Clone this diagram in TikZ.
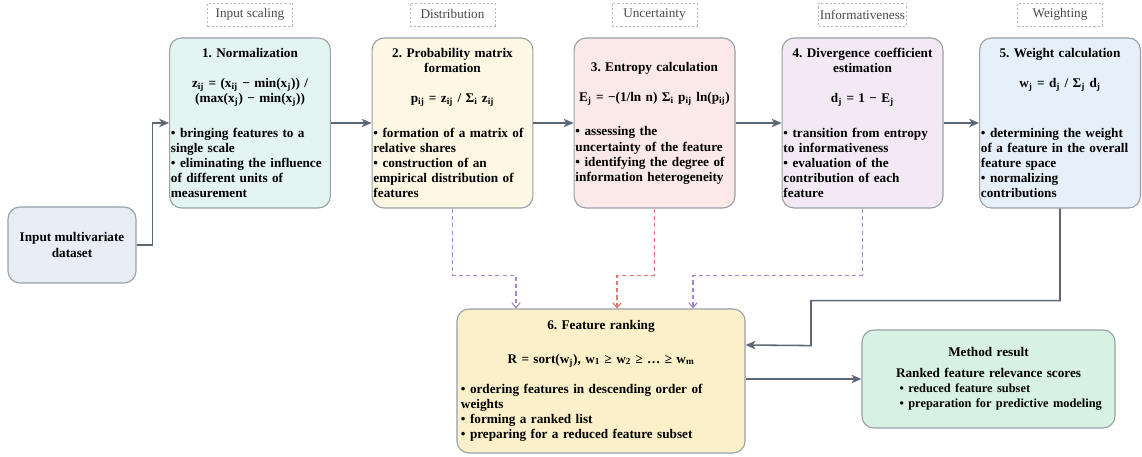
\documentclass[tikz,border=0pt]{standalone}
\usepackage{fontspec}
\setmainfont{Liberation Serif}
\usetikzlibrary{arrows.meta,positioning,calc}
\setlength{\parindent}{0pt}
\frenchspacing

\definecolor{edgec}{HTML}{9AA0A6}
\definecolor{flowc}{HTML}{5D6674}
\definecolor{tagc}{HTML}{B8B8B8}
\definecolor{tagtext}{HTML}{4A4A4A}
\definecolor{violetc}{HTML}{A883D0}
\definecolor{redc}{HTML}{E8776C}
\definecolor{c0}{HTML}{E9EEF6}
\definecolor{c1}{HTML}{E3F4F1}
\definecolor{c2}{HTML}{FDF7E3}
\definecolor{c3}{HTML}{FBE8E8}
\definecolor{c4}{HTML}{F2E9F5}
\definecolor{c5}{HTML}{E6F0FA}
\definecolor{c6}{HTML}{FBF0C9}
\definecolor{c7}{HTML}{D7F2E4}

\tikzset{
  box/.style={draw=edgec, line width=0.8pt, rounded corners=0.3cm,
    font=\fontsize{9.4}{10.7}\selectfont\bfseries},
  stage/.style={box, align=left, text width=3.95cm, inner xsep=1pt,
    minimum height=4.25cm},
  tag/.style={draw=tagc, dash pattern=on 1.5pt off 1.5pt, text=tagtext,
    minimum width=2.125cm, minimum height=0.575cm, inner sep=1pt,
    font=\fontsize{9.4}{10.7}\selectfont},
  flow/.style={draw=flowc, line width=1.1pt,
    -{Stealth[length=7pt,width=6pt,inset=2pt]}},
  link/.style={line width=0.8pt, dash pattern=on 3pt off 2.2pt,
    -{Straight Barb[length=3.5pt,width=6pt]}},
}

\newcommand{\sub}[1]{\textsubscript{#1}}

\begin{document}
\begin{tikzpicture}[x=0.025cm,y=-0.025cm]
  \useasboundingbox (0,0) rectangle (1142,457);

  % main stages
  \node[box, fill=c0, minimum width=3.2cm, minimum height=1.9cm, align=center] (input) at (72,245) {Input multivariate\\dataset};

  \node[stage, fill=c1] (norm) at (250,123) {%
    {\centering 1. Normalization\par}\vspace{10.7pt}
    {\centering z\sub{ij} = (x\sub{ij} − min(x\sub{j})) /\\(max(x\sub{j}) − min(x\sub{j}))\par}\vspace{14pt}
    • bringing features to a\\single scale\\• eliminating the influence\\of different units of\\measurement};

  \node[stage, fill=c2] (prob) at (452.5,123) {%
    {\centering 2. Probability matrix\\formation\par}\vspace{10.7pt}
    {\centering p\sub{ij} = z\sub{ij} / Σ\sub{i} z\sub{ij}\par}\vspace{14pt}
    • formation of a matrix of\\relative shares\\• construction of an\\empirical distribution of\\features};

  \node[stage, fill=c3] (entropy) at (654.5,123) {%
    {\centering 3. Entropy calculation\par}\vspace{10.7pt}
    {\centering E\sub{j} = −(1/ln n) Σ\sub{i} p\sub{ij} ln(p\sub{ij})\par}\vspace{14pt}
    • assessing the\\uncertainty of the feature\\• identifying the degree of\\information heterogeneity};

  \node[stage, fill=c4] (diverg) at (862.5,123) {%
    {\centering 4. Divergence coefficient\\estimation\par}\vspace{10.7pt}
    {\centering d\sub{j} = 1 − E\sub{j}\par}\vspace{14pt}
    • transition from entropy\\to informativeness\\• evaluation of the\\contribution of each\\feature};

  \node[stage, fill=c5] (weight) at (1060,123) {%
    {\centering 5. Weight calculation\par}\vspace{10.7pt}
    {\centering w\sub{j} = d\sub{j} / Σ\sub{j} d\sub{j}\par}\vspace{25pt}
    • determining the weight\\of a feature in the overall\\feature space\\• normalizing\\contributions};

  \node[box, fill=c6, align=left, text width=7cm, inner xsep=0.1cm, minimum height=3.6cm] (rank) at (601,381) {%
    {\centering 6. Feature ranking\par}\vspace{12.8pt}
    {\centering R = sort(w\sub{j}), w\sub{1} ≥ w\sub{2} ≥ … ≥ w\sub{m}\par}\vspace{10.7pt}
    • ordering features in descending order of\\weights\\• forming a ranked list\\• preparing for a reduced feature subset};

  \node[box, fill=c7, align=left, text width=6.2cm, inner xsep=1pt, minimum width=6.325cm, minimum height=2.45cm] (result) at (988.5,379) {%
    {\centering Method result\par}\vspace{4pt}
    {\centering Ranked feature relevance scores\par}
    {\fontsize{8.8}{10.7}\selectfont\leftskip=25pt \mbox{• reduced feature subset}\\\mbox{• preparation for predictive modeling}\par}};

  % stage tags
  \node[tag, above=0.28cm of norm] (tagnorm) {Input scaling};
  \node[tag, above=0.28cm of prob] (tagprob) {Distribution};
  \node[tag, above=0.28cm of entropy] (tagentropy) {Uncertainty};
  \node[tag, above=0.28cm of diverg] (tagdiverg) {Informativeness};
  \node[tag, above=0.28cm of weight] (tagweight) {Weighting};

  % main flow
  \draw[flow] (input.east) -- ++(16,0) |- (norm.west);
  \draw[flow] (norm) -- (prob);
  \draw[flow] (prob) -- (entropy);
  \draw[flow] (entropy) -- (diverg);
  \draw[flow] (diverg) -- (weight);
  \draw[flow] (weight.south) -- ++(0,92) -| ++(-249,45) -- (rank.east |- 0,345);
  \draw[flow] (rank.east |- result.west) -- (result.west);

  % contributions to ranking
  \draw[link, draw=violetc] (prob.south) -- ++(0,67) -| ($(rank.north)+(-85,0)$);
  \draw[link, draw=redc] (entropy.south) -- ++(0,67) -| ($(rank.north)+(16,0)$);
  \draw[link, draw=violetc] (diverg.south) -- ++(0,67) -| ($(rank.north)+(92,0)$);
\end{tikzpicture}
\end{document}
